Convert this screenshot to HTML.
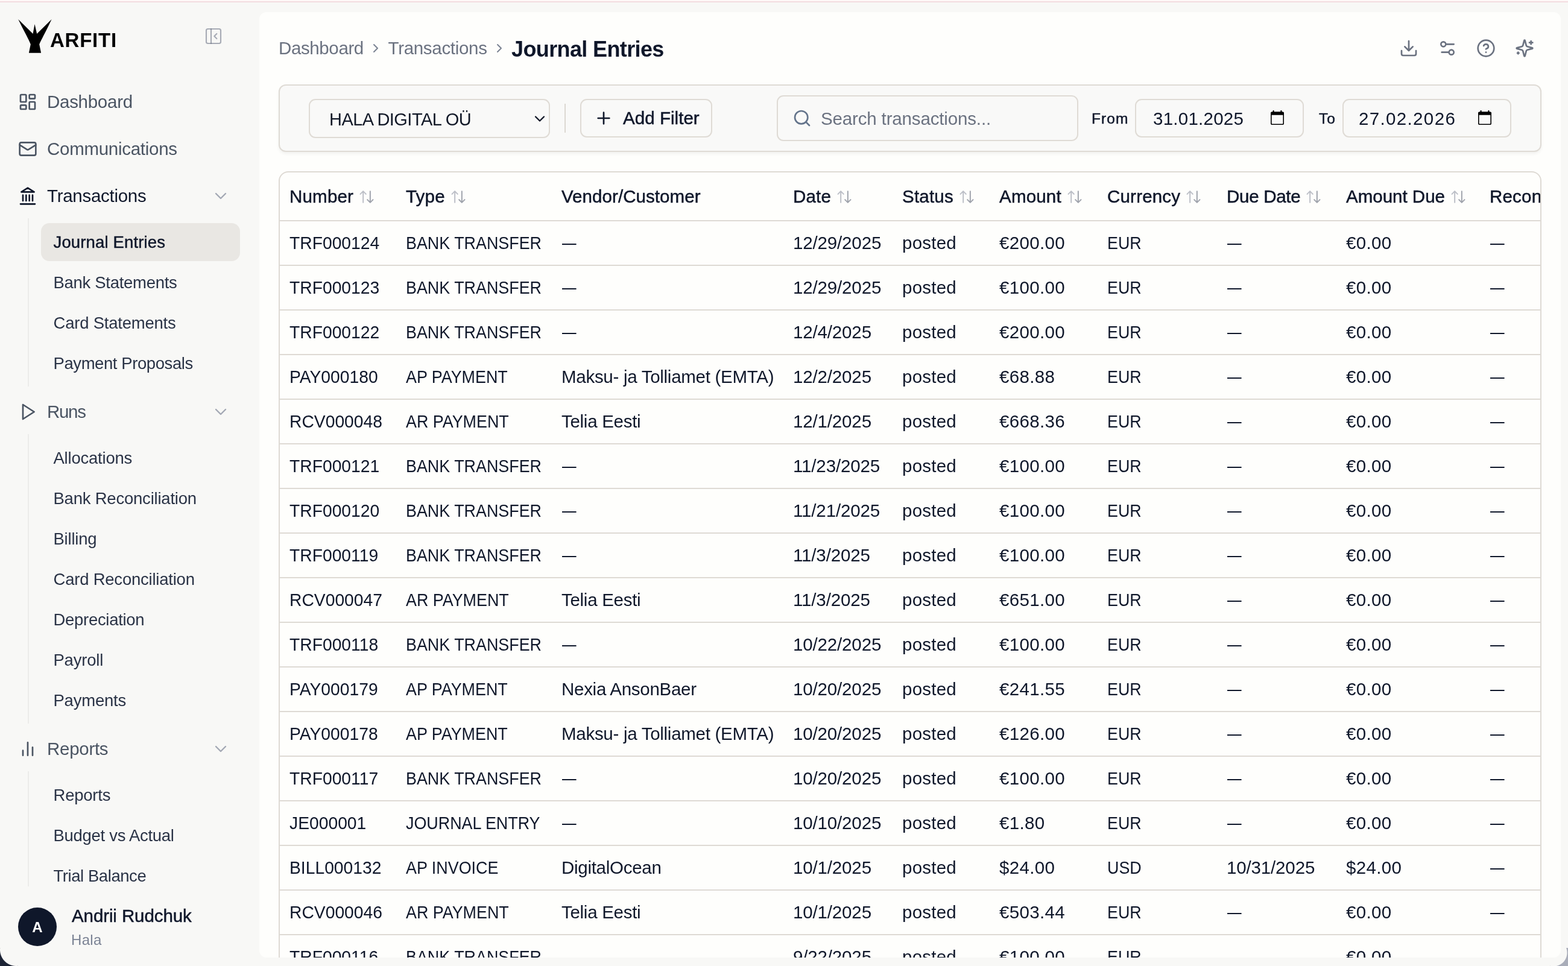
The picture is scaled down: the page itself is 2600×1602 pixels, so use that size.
<!DOCTYPE html>
<html lang="en">
<head>
<meta charset="utf-8">
<title>Journal Entries – Arfiti</title>
<style>
*{box-sizing:border-box;margin:0;padding:0}
html,body{width:2600px;height:1602px;overflow:hidden}
body{position:relative;background:#f8f8f6;font-family:"Liberation Sans",sans-serif;color:#0f172a;font-size:29.5px;line-height:1}
svg.i,svg.sep,svg.sort{fill:none;stroke:currentColor;stroke-width:2;stroke-linecap:round;stroke-linejoin:round;display:block;position:absolute}
.topline{position:absolute;left:0;top:0;width:2600px;height:4px;background:linear-gradient(#fff8f7 0 2px,#f3dce0 2px 4px)}
/* ---------- sidebar ---------- */
.side{position:absolute;left:0;top:4px;width:430px;height:1598px}
.logo{position:absolute;left:29.5px;top:27.5px;width:56px;height:56px;fill:#000}
.bname{position:absolute;left:83px;top:47px;font-size:33px;font-weight:700;color:#000;letter-spacing:.75px;line-height:32px}
.collapse{left:338px;top:40px;width:32px;height:32px;color:rgba(100,108,128,.55);stroke-width:1.6px!important}
nav{position:absolute;left:0;top:-4px;width:430px;height:1500px}
.grp{position:absolute;left:16px;width:398px;height:48px;color:#4b5563}
.grp.dark{color:#0f172a}
.grp .gi{left:14px;top:8px;width:32px;height:32px;stroke-width:2}
.grp .gl{position:absolute;left:62px;top:8px;line-height:32px;font-size:29.5px;letter-spacing:-.28px}
.grp .gc{left:334px;top:8px;width:32px;height:32px;color:#a3a8b4;stroke-width:1.8}
.vline{position:absolute;left:46px;width:2px;background:#ececea}
.sub{position:absolute;left:68px;width:330px;list-style:none}
.sub li{height:63px;margin-bottom:4px;border-radius:14px;position:relative}
.sub li.on{background:#e9e7e3}
.sub li a{position:absolute;left:20.5px;top:16px;line-height:32px;font-size:27.5px;color:#2a3346;letter-spacing:-.22px;white-space:nowrap}
.sub li.on a{color:#0f172a;-webkit-text-stroke:.45px #0f172a;letter-spacing:.15px}
.user{position:absolute;left:0;top:1490px;width:430px;height:100px}
.avatar{position:absolute;left:30px;top:11px;width:64px;height:64px;border-radius:50%;background:#0f172a;color:#fff;font-weight:700;font-size:24px;line-height:66px;text-align:center}
.uname{position:absolute;left:119px;top:9px;line-height:32px;font-size:29.5px;-webkit-text-stroke:.5px #0f172a;letter-spacing:-.1px;white-space:nowrap}
.uorg{position:absolute;left:118px;top:50.5px;line-height:28px;font-size:24px;color:#7b8394;letter-spacing:.3px}
/* ---------- main ---------- */
.panel{position:absolute;left:430px;top:20px;width:2158px;height:1568px;background:#fefefc;border-radius:12px;overflow:hidden}
.crumbs{position:absolute;left:0;top:0;height:120px;width:1200px}
.cr{position:absolute;top:44px;line-height:32px;font-size:29.5px;color:#6b7280;letter-spacing:-.19px;white-space:nowrap}
.c1{left:32px;letter-spacing:-.38px}.c2{left:213.5px;letter-spacing:-.3px}
.sep{width:24px;height:24px;top:48px;color:#7b8392;stroke-width:2}
.s1{left:181px}.s2{left:386px}
h1{position:absolute;left:418px;top:39.5px;line-height:44px;font-size:36px;font-weight:700;letter-spacing:-.62px;color:#0f172a;white-space:nowrap}
.tools{position:absolute;right:0;top:0;width:300px;height:120px;color:#6b7280}
.tools .i{width:32px;height:32px;top:44px;stroke-width:2}
.t1{left:32px}.t2{left:96px}.t3{left:160px}.t4{left:224px}
.filters{position:absolute;left:32px;top:120px;width:2094px;height:112px;border:2px solid #dfdbd5;border-radius:12px;background:#f9f9f8;box-shadow:0 3px 5px rgba(0,0,0,.05)}
.filters>*{position:absolute}
.select,.btn,.search,.date{border:2px solid #dfdbd5;border-radius:11px;background:#f9f9f8}
.select{left:48px;top:22px;width:400px;height:65px}
.select span{position:absolute;left:32px;top:15.5px;line-height:32px;font-size:29px;letter-spacing:-.55px;color:#111827;white-space:nowrap}
.select .sc{left:366.5px;top:17px;width:28px;height:28px;color:#111827;stroke-width:2}
.divider{left:472px;top:30px;width:2px;height:48px;background:#dcd8d2}
.btn{left:498px;top:22px;width:219px;height:64px;font:inherit;color:inherit;padding:0;margin:0;appearance:none;-webkit-appearance:none;text-align:left;cursor:pointer}
.btn .pl{left:20.5px;top:14px;width:32px;height:32px;stroke-width:2}
.btn span{position:absolute;left:69px;top:14px;line-height:32px;font-size:29.5px;-webkit-text-stroke:.5px #0f172a;letter-spacing:.05px;white-space:nowrap}
.search{left:824px;top:16px;width:500px;height:76px}
.search .si{left:24px;top:20.3px;width:32px;height:32px;color:#64748b;stroke-width:2}
.search span{position:absolute;left:71px;top:21px;line-height:32px;font-size:29.5px;color:#6b7280;letter-spacing:-.15px;white-space:nowrap}
.lb{top:41px;line-height:28px;font-size:24.5px;-webkit-text-stroke:.5px #0f172a;letter-spacing:1.1px}
.from{left:1346px}.to{left:1723px}
.date{top:22px;width:280px;height:64px}
.d1{left:1418px}.d2{left:1762px}
.d1 span{letter-spacing:.25px!important}.d2 span{letter-spacing:1.35px!important;left:25px!important}
.date span{position:absolute;left:28px;top:15px;line-height:32px;font-size:29.5px;letter-spacing:.8px;white-space:nowrap}
.date .ci{left:222.8px;top:17px;width:22px;height:24px;color:#000;stroke-width:1.6}
.date .ci .f{fill:#000;stroke:none}
.tablewrap{position:absolute;left:32px;top:264px;width:2094px;height:1400px;border:2px solid #dedad4;border-radius:16px;overflow:hidden;background:#fefefc}
table.grid{border-collapse:separate;border-spacing:0;table-layout:fixed;width:2220px;position:absolute;left:0;top:0}
.grid th,.grid td{text-align:left;white-space:nowrap;overflow:visible;padding:0 0 0 16px;font-weight:400}
.grid th{height:81px;border-bottom:2px solid #dedad4;font-size:29.5px;position:relative}
.grid th .hl{-webkit-text-stroke:.5px #0f172a;letter-spacing:.2px;position:relative;top:0px}
th.c-due .hl{letter-spacing:-.28px}th.c-adue .hl{letter-spacing:0px}th.c-ven .hl{letter-spacing:.07px}
.grid td{height:74px;border-bottom:2px solid #dedad4;font-size:29.5px;letter-spacing:.3px;padding-top:0}
.grid .sort{display:inline-block;position:relative;width:28px;height:29px;vertical-align:-5px;margin-left:8px;stroke-width:1.7}
.sort .up{stroke:#bcbfc7}.sort .dn{stroke:#9fa3ac}
td.c-num .sx{transform:scaleX(.958)}
td.c-type .sx{transform:scaleX(.911)}
td.c-ven{letter-spacing:-.28px}
td.c-date,td.c-due{letter-spacing:-.15px}
td.c-stat{letter-spacing:.22px}
td.c-amt,td.c-adue{letter-spacing:.34px}
td.c-cur .sx{transform:scaleX(.91)}
.sx{display:inline-block;transform-origin:0 50%;letter-spacing:0}
.dash{display:inline-block;transform:scaleX(.8);transform-origin:0 50%;position:relative;top:0;left:1px}
.corner{position:absolute;bottom:0;width:30px;height:30px}
.corner.bl{left:0;background:radial-gradient(circle at 27px 3px,transparent 0 26.5px,#1d2435 27.5px)}
.corner.br{right:0;background:radial-gradient(circle at 6px 8px,transparent 0 22px,#a9adb9 23px)}

</style>
</head>
<body>
<div class="topline"></div>
<aside class="side">
  <div class="brand">
    <svg class="logo" viewBox="0 0 56 56"><path d="M0.2 0.1 L24.6 23.9 L27.5 8 L31.2 23.9 L55.6 0.1 C51 10 45 22 40.5 30.4 C38 35 36.5 38 35.2 41.4 L38.1 55.8 L17.9 55.8 L20.8 41.4 C19 37 16.5 32 13.6 26.3 C9 17.5 4.5 9 0.2 0.1 Z"/></svg>
    <span class="bname">ARFITI</span>
    <svg class="i collapse" viewBox="0 0 24 24"><rect x="3" y="3" width="18" height="18" rx="2"/><path d="M9 3v18M16 15l-3-3 3-3"/></svg>
  </div>
  <nav>
    <div class="grp" style="top:145px"><svg class="i gi" viewBox="0 0 24 24"><rect x="3" y="3" width="7" height="9" rx="1"/><rect x="14" y="3" width="7" height="5" rx="1"/><rect x="14" y="12" width="7" height="9" rx="1"/><rect x="3" y="16" width="7" height="5" rx="1"/></svg><span class="gl">Dashboard</span></div>
    <div class="grp" style="top:223px"><svg class="i gi" viewBox="0 0 24 24"><rect x="2" y="4" width="20" height="16" rx="2"/><path d="M22 7l-8.97 5.7a1.94 1.94 0 0 1-2.06 0L2 7"/></svg><span class="gl">Communications</span></div>
    <div class="grp dark" style="top:301px"><svg class="i gi" viewBox="0 0 24 24"><path d="M3 22h18M6 18v-7M10 18v-7M14 18v-7M18 18v-7M12 2l8 5H4z"/></svg><span class="gl">Transactions</span><svg class="i gc" viewBox="0 0 24 24"><path d="M6 9l6 6 6-6"/></svg></div>
    <div class="vline" style="top:362px;height:279px"></div>
    <ul class="sub" style="top:370px">
<li class="on"><a>Journal Entries</a></li>
<li><a style="letter-spacing:-0.3px">Bank Statements</a></li>
<li><a>Card Statements</a></li>
<li><a style="letter-spacing:-0.42px">Payment Proposals</a></li>
</ul>
    <div class="grp" style="top:659px"><svg class="i gi" viewBox="0 0 24 24"><path d="M6 3l14 9-14 9z"/></svg><span class="gl" style="letter-spacing:-1.3px">Runs</span><svg class="i gc" viewBox="0 0 24 24"><path d="M6 9l6 6 6-6"/></svg></div>
    <div class="vline" style="top:720px;height:480px"></div>
    <ul class="sub" style="top:728px">
<li><a>Allocations</a></li>
<li><a>Bank Reconciliation</a></li>
<li><a>Billing</a></li>
<li><a>Card Reconciliation</a></li>
<li><a style="letter-spacing:-0.3px">Depreciation</a></li>
<li><a>Payroll</a></li>
<li><a>Payments</a></li>
</ul>
    <div class="grp" style="top:1218px"><svg class="i gi" viewBox="0 0 24 24"><path d="M18 20V10M12 20V4M6 20v-6"/></svg><span class="gl">Reports</span><svg class="i gc" viewBox="0 0 24 24"><path d="M6 9l6 6 6-6"/></svg></div>
    <div class="vline" style="top:1279px;height:191px"></div>
    <ul class="sub" style="top:1287px">
<li><a>Reports</a></li>
<li><a style="letter-spacing:-0.3px">Budget vs Actual</a></li>
<li><a style="letter-spacing:-0.44px">Trial Balance</a></li>
</ul>
  </nav>
  <div class="user">
    <div class="avatar">A</div>
    <div class="uname">Andrii Rudchuk</div>
    <div class="uorg">Hala</div>
  </div>
</aside>
<main class="panel">
  <header class="top">
    <div class="crumbs"><span class="cr c1">Dashboard</span><svg class="sep s1" viewBox="0 0 24 24"><path d="M9 18l6-6-6-6"/></svg><span class="cr c2">Transactions</span><svg class="sep s2" viewBox="0 0 24 24"><path d="M9 18l6-6-6-6"/></svg><h1>Journal Entries</h1></div>
    <div class="tools"><svg class="i t1" viewBox="0 0 24 24"><path d="M21 15v4a2 2 0 0 1-2 2H5a2 2 0 0 1-2-2v-4M7 10l5 5 5-5M12 15V3"/></svg><svg class="i t2" viewBox="0 0 24 24"><path d="M20 7h-9M14 17H5"/><circle cx="17" cy="17" r="3"/><circle cx="7" cy="7" r="3"/></svg><svg class="i t3" viewBox="0 0 24 24"><circle cx="12" cy="12" r="10"/><path d="M9.09 9a3 3 0 0 1 5.83 1c0 2-3 3-3 3M12 17h.01"/></svg><svg class="i t4" viewBox="0 0 24 24"><path d="M9.937 15.5A2 2 0 0 0 8.5 14.063l-6.135-1.582a.5.5 0 0 1 0-.962L8.5 9.936A2 2 0 0 0 9.937 8.5l1.582-6.135a.5.5 0 0 1 .963 0L14.063 8.5A2 2 0 0 0 15.5 9.937l6.135 1.581a.5.5 0 0 1 0 .964L15.5 14.063a2 2 0 0 0-1.437 1.437l-1.582 6.135a.5.5 0 0 1-.963 0zM20 3v4M22 5h-4M4 17v2M5 18H3"/></svg></div>
  </header>
  <section class="filters">
    <div class="select" role="combobox" aria-label="Entity"><span>HALA DIGITAL OÜ</span><svg class="i sc" viewBox="0 0 24 24"><path d="M6 9l6 6 6-6"/></svg></div>
    <div class="divider"></div>
    <button type="button" class="btn"><svg class="i pl" viewBox="0 0 24 24"><path d="M5 12h14M12 5v14"/></svg><span>Add Filter</span></button>
    <div class="search" role="search"><svg class="i si" viewBox="0 0 24 24"><circle cx="11" cy="11" r="8"/><path d="M21 21l-4.3-4.3"/></svg><span>Search transactions...</span></div>
    <label class="lb from">From</label>
    <div class="date d1"><span>31.01.2025</span><svg class="i ci" viewBox="0 0 22 24"><rect x="0.8" y="3.3" width="20.4" height="19.9" rx="1.8"/><path class="f" d="M0 4.5a2 2 0 0 1 2-2h18a2 2 0 0 1 2 2v3.2H0zM3.6 0h2v3h-2zM16.4 0h2v3h-2z"/></svg></div>
    <label class="lb to">To</label>
    <div class="date d2"><span>27.02.2026</span><svg class="i ci" viewBox="0 0 22 24"><rect x="0.8" y="3.3" width="20.4" height="19.9" rx="1.8"/><path class="f" d="M0 4.5a2 2 0 0 1 2-2h18a2 2 0 0 1 2 2v3.2H0zM3.6 0h2v3h-2zM16.4 0h2v3h-2z"/></svg></div>
  </section>
  <section class="tablewrap">
<table class="grid">
<colgroup>
<col style="width:193px">
<col style="width:258px">
<col style="width:384px">
<col style="width:181px">
<col style="width:161px">
<col style="width:179px">
<col style="width:198px">
<col style="width:198px">
<col style="width:238px">
<col style="width:230px">
</colgroup>
<thead><tr>
<th class="c-num"><span class="hl">Number</span><svg class="sort" viewBox="0 0 24 24"><path class="up" d="M3 8l4-4 4 4M7 4v16"/><path class="dn" d="M21 16l-4 4-4-4M17 20V4"/></svg></th>
<th class="c-type"><span class="hl">Type</span><svg class="sort" viewBox="0 0 24 24"><path class="up" d="M3 8l4-4 4 4M7 4v16"/><path class="dn" d="M21 16l-4 4-4-4M17 20V4"/></svg></th>
<th class="c-ven"><span class="hl">Vendor/Customer</span></th>
<th class="c-date"><span class="hl">Date</span><svg class="sort" viewBox="0 0 24 24"><path class="up" d="M3 8l4-4 4 4M7 4v16"/><path class="dn" d="M21 16l-4 4-4-4M17 20V4"/></svg></th>
<th class="c-stat"><span class="hl">Status</span><svg class="sort" viewBox="0 0 24 24"><path class="up" d="M3 8l4-4 4 4M7 4v16"/><path class="dn" d="M21 16l-4 4-4-4M17 20V4"/></svg></th>
<th class="c-amt"><span class="hl">Amount</span><svg class="sort" viewBox="0 0 24 24"><path class="up" d="M3 8l4-4 4 4M7 4v16"/><path class="dn" d="M21 16l-4 4-4-4M17 20V4"/></svg></th>
<th class="c-cur"><span class="hl">Currency</span><svg class="sort" viewBox="0 0 24 24"><path class="up" d="M3 8l4-4 4 4M7 4v16"/><path class="dn" d="M21 16l-4 4-4-4M17 20V4"/></svg></th>
<th class="c-due"><span class="hl">Due Date</span><svg class="sort" viewBox="0 0 24 24"><path class="up" d="M3 8l4-4 4 4M7 4v16"/><path class="dn" d="M21 16l-4 4-4-4M17 20V4"/></svg></th>
<th class="c-adue"><span class="hl">Amount Due</span><svg class="sort" viewBox="0 0 24 24"><path class="up" d="M3 8l4-4 4 4M7 4v16"/><path class="dn" d="M21 16l-4 4-4-4M17 20V4"/></svg></th>
<th class="c-rec"><span class="hl">Reconciled</span><svg class="sort" viewBox="0 0 24 24"><path class="up" d="M3 8l4-4 4 4M7 4v16"/><path class="dn" d="M21 16l-4 4-4-4M17 20V4"/></svg></th>
</tr></thead><tbody>
<tr><td class="c-num"><span class="sx">TRF000124</span></td><td class="c-type"><span class="sx">BANK TRANSFER</span></td><td class="c-ven"><span class="dash">—</span></td><td class="c-date">12/29/2025</td><td class="c-stat">posted</td><td class="c-amt">€200.00</td><td class="c-cur"><span class="sx">EUR</span></td><td class="c-due"><span class="dash">—</span></td><td class="c-adue">€0.00</td><td class="c-rec"><span class="dash">—</span></td></tr>
<tr><td class="c-num"><span class="sx">TRF000123</span></td><td class="c-type"><span class="sx">BANK TRANSFER</span></td><td class="c-ven"><span class="dash">—</span></td><td class="c-date">12/29/2025</td><td class="c-stat">posted</td><td class="c-amt">€100.00</td><td class="c-cur"><span class="sx">EUR</span></td><td class="c-due"><span class="dash">—</span></td><td class="c-adue">€0.00</td><td class="c-rec"><span class="dash">—</span></td></tr>
<tr><td class="c-num"><span class="sx">TRF000122</span></td><td class="c-type"><span class="sx">BANK TRANSFER</span></td><td class="c-ven"><span class="dash">—</span></td><td class="c-date">12/4/2025</td><td class="c-stat">posted</td><td class="c-amt">€200.00</td><td class="c-cur"><span class="sx">EUR</span></td><td class="c-due"><span class="dash">—</span></td><td class="c-adue">€0.00</td><td class="c-rec"><span class="dash">—</span></td></tr>
<tr><td class="c-num"><span class="sx">PAY000180</span></td><td class="c-type"><span class="sx">AP PAYMENT</span></td><td class="c-ven">Maksu- ja Tolliamet (EMTA)</td><td class="c-date">12/2/2025</td><td class="c-stat">posted</td><td class="c-amt">€68.88</td><td class="c-cur"><span class="sx">EUR</span></td><td class="c-due"><span class="dash">—</span></td><td class="c-adue">€0.00</td><td class="c-rec"><span class="dash">—</span></td></tr>
<tr><td class="c-num"><span class="sx">RCV000048</span></td><td class="c-type"><span class="sx">AR PAYMENT</span></td><td class="c-ven">Telia Eesti</td><td class="c-date">12/1/2025</td><td class="c-stat">posted</td><td class="c-amt">€668.36</td><td class="c-cur"><span class="sx">EUR</span></td><td class="c-due"><span class="dash">—</span></td><td class="c-adue">€0.00</td><td class="c-rec"><span class="dash">—</span></td></tr>
<tr><td class="c-num"><span class="sx">TRF000121</span></td><td class="c-type"><span class="sx">BANK TRANSFER</span></td><td class="c-ven"><span class="dash">—</span></td><td class="c-date">11/23/2025</td><td class="c-stat">posted</td><td class="c-amt">€100.00</td><td class="c-cur"><span class="sx">EUR</span></td><td class="c-due"><span class="dash">—</span></td><td class="c-adue">€0.00</td><td class="c-rec"><span class="dash">—</span></td></tr>
<tr><td class="c-num"><span class="sx">TRF000120</span></td><td class="c-type"><span class="sx">BANK TRANSFER</span></td><td class="c-ven"><span class="dash">—</span></td><td class="c-date">11/21/2025</td><td class="c-stat">posted</td><td class="c-amt">€100.00</td><td class="c-cur"><span class="sx">EUR</span></td><td class="c-due"><span class="dash">—</span></td><td class="c-adue">€0.00</td><td class="c-rec"><span class="dash">—</span></td></tr>
<tr><td class="c-num"><span class="sx">TRF000119</span></td><td class="c-type"><span class="sx">BANK TRANSFER</span></td><td class="c-ven"><span class="dash">—</span></td><td class="c-date">11/3/2025</td><td class="c-stat">posted</td><td class="c-amt">€100.00</td><td class="c-cur"><span class="sx">EUR</span></td><td class="c-due"><span class="dash">—</span></td><td class="c-adue">€0.00</td><td class="c-rec"><span class="dash">—</span></td></tr>
<tr><td class="c-num"><span class="sx">RCV000047</span></td><td class="c-type"><span class="sx">AR PAYMENT</span></td><td class="c-ven">Telia Eesti</td><td class="c-date">11/3/2025</td><td class="c-stat">posted</td><td class="c-amt">€651.00</td><td class="c-cur"><span class="sx">EUR</span></td><td class="c-due"><span class="dash">—</span></td><td class="c-adue">€0.00</td><td class="c-rec"><span class="dash">—</span></td></tr>
<tr><td class="c-num"><span class="sx">TRF000118</span></td><td class="c-type"><span class="sx">BANK TRANSFER</span></td><td class="c-ven"><span class="dash">—</span></td><td class="c-date">10/22/2025</td><td class="c-stat">posted</td><td class="c-amt">€100.00</td><td class="c-cur"><span class="sx">EUR</span></td><td class="c-due"><span class="dash">—</span></td><td class="c-adue">€0.00</td><td class="c-rec"><span class="dash">—</span></td></tr>
<tr><td class="c-num"><span class="sx">PAY000179</span></td><td class="c-type"><span class="sx">AP PAYMENT</span></td><td class="c-ven">Nexia AnsonBaer</td><td class="c-date">10/20/2025</td><td class="c-stat">posted</td><td class="c-amt">€241.55</td><td class="c-cur"><span class="sx">EUR</span></td><td class="c-due"><span class="dash">—</span></td><td class="c-adue">€0.00</td><td class="c-rec"><span class="dash">—</span></td></tr>
<tr><td class="c-num"><span class="sx">PAY000178</span></td><td class="c-type"><span class="sx">AP PAYMENT</span></td><td class="c-ven">Maksu- ja Tolliamet (EMTA)</td><td class="c-date">10/20/2025</td><td class="c-stat">posted</td><td class="c-amt">€126.00</td><td class="c-cur"><span class="sx">EUR</span></td><td class="c-due"><span class="dash">—</span></td><td class="c-adue">€0.00</td><td class="c-rec"><span class="dash">—</span></td></tr>
<tr><td class="c-num"><span class="sx">TRF000117</span></td><td class="c-type"><span class="sx">BANK TRANSFER</span></td><td class="c-ven"><span class="dash">—</span></td><td class="c-date">10/20/2025</td><td class="c-stat">posted</td><td class="c-amt">€100.00</td><td class="c-cur"><span class="sx">EUR</span></td><td class="c-due"><span class="dash">—</span></td><td class="c-adue">€0.00</td><td class="c-rec"><span class="dash">—</span></td></tr>
<tr><td class="c-num"><span class="sx">JE000001</span></td><td class="c-type"><span class="sx">JOURNAL ENTRY</span></td><td class="c-ven"><span class="dash">—</span></td><td class="c-date">10/10/2025</td><td class="c-stat">posted</td><td class="c-amt">€1.80</td><td class="c-cur"><span class="sx">EUR</span></td><td class="c-due"><span class="dash">—</span></td><td class="c-adue">€0.00</td><td class="c-rec"><span class="dash">—</span></td></tr>
<tr><td class="c-num"><span class="sx">BILL000132</span></td><td class="c-type"><span class="sx">AP INVOICE</span></td><td class="c-ven">DigitalOcean</td><td class="c-date">10/1/2025</td><td class="c-stat">posted</td><td class="c-amt">$24.00</td><td class="c-cur"><span class="sx">USD</span></td><td class="c-due">10/31/2025</td><td class="c-adue">$24.00</td><td class="c-rec"><span class="dash">—</span></td></tr>
<tr><td class="c-num"><span class="sx">RCV000046</span></td><td class="c-type"><span class="sx">AR PAYMENT</span></td><td class="c-ven">Telia Eesti</td><td class="c-date">10/1/2025</td><td class="c-stat">posted</td><td class="c-amt">€503.44</td><td class="c-cur"><span class="sx">EUR</span></td><td class="c-due"><span class="dash">—</span></td><td class="c-adue">€0.00</td><td class="c-rec"><span class="dash">—</span></td></tr>
<tr><td class="c-num"><span class="sx">TRF000116</span></td><td class="c-type"><span class="sx">BANK TRANSFER</span></td><td class="c-ven"><span class="dash">—</span></td><td class="c-date">9/22/2025</td><td class="c-stat">posted</td><td class="c-amt">€100.00</td><td class="c-cur"><span class="sx">EUR</span></td><td class="c-due"><span class="dash">—</span></td><td class="c-adue">€0.00</td><td class="c-rec"><span class="dash">—</span></td></tr>
</tbody></table>
  </section>
</main>
<div class="corner bl"></div><div class="corner br"></div>

</body>
</html>
